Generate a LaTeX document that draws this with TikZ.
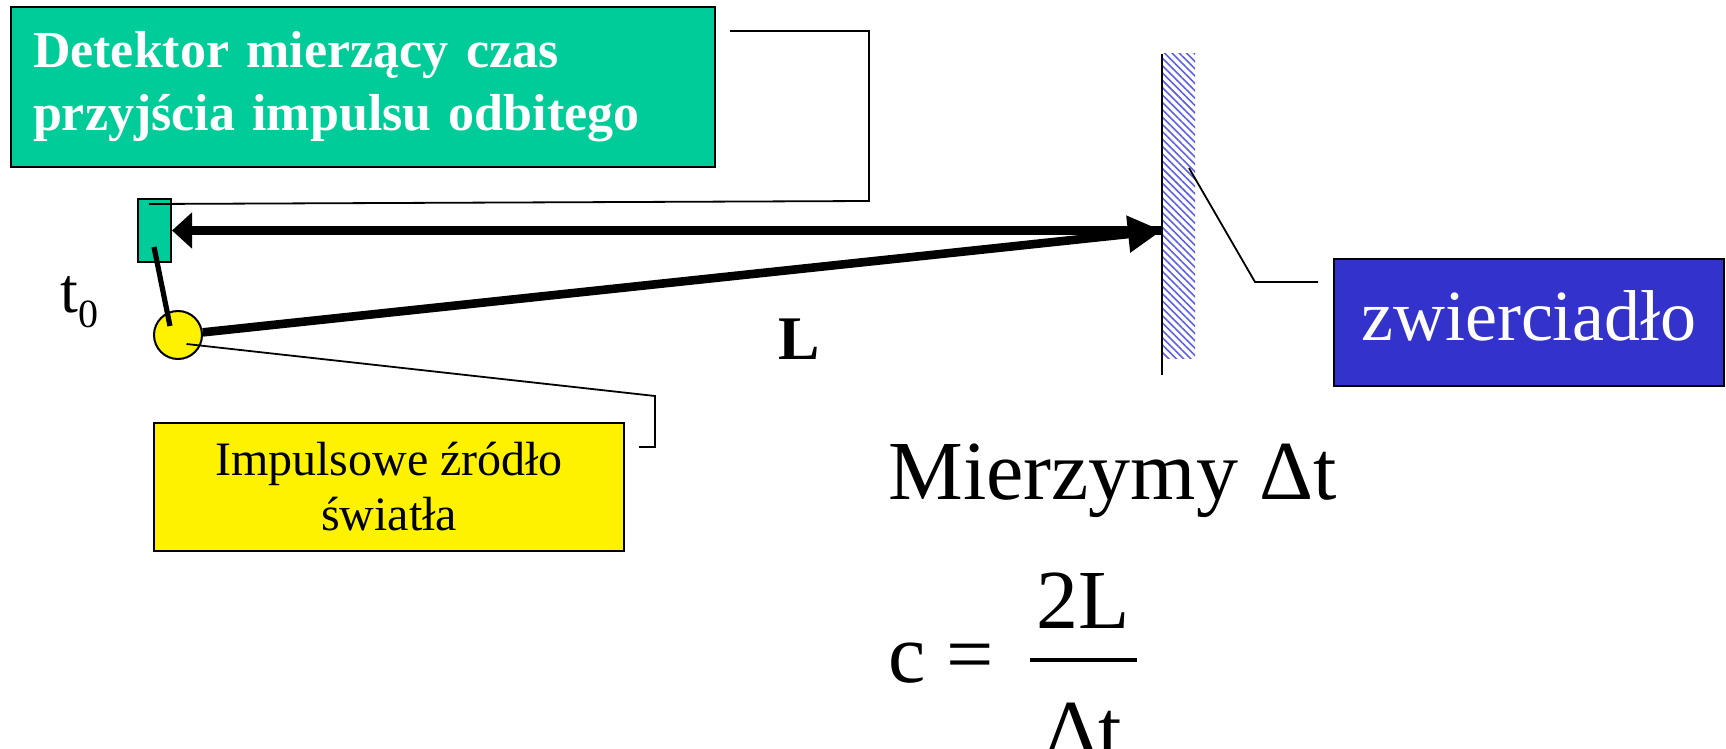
\documentclass[tikz,border=0pt]{standalone}
\usepackage{fontspec}
\setmainfont{Liberation Serif}
\usetikzlibrary{arrows.meta,patterns.meta}
\definecolor{tealbox}{RGB}{0,204,153}
\definecolor{bluebox}{RGB}{51,51,204}
\definecolor{hatchblue}{RGB}{95,95,230}
\begin{document}
\begin{tikzpicture}[x=0.5pt,y=-0.5pt,
  box/.style={draw=black,line width=1pt,inner sep=0pt},
  leader/.style={draw=black,line width=0.9pt},
  beam/.style={line width=4.3pt},
  plain/.style={inner sep=0pt},
]
\useasboundingbox (0,0) rectangle (1726,749);

% boxes
\node[box,fill=tealbox,minimum width=352pt,minimum height=80pt,text width=330pt,align=left,text=white,
      font=\fontsize{26}{31.5}\bfseries\selectfont] (detbox) at (363,87)
      {Detektor mierzący czas\\przyjścia impulsu odbitego};
\node[box,fill=yellow,minimum width=235pt,minimum height=64pt,align=center,
      font=\fontsize{24}{27.5}\selectfont] (srcbox) at (389,487)
      {Impulsowe źródło\\światła};
\node[box,fill=bluebox,minimum width=195pt,minimum height=63.5pt,text=white,
      font=\fontsize{36}{36}\selectfont,text height=24pt,text depth=6.5pt] (zw) at (1529,322.5)
      {zwierciadło};

% mirror
\node[plain,minimum width=16pt,minimum height=152pt,pattern={Lines[angle=-45,distance=2.6pt,line width=0.8pt]},
      pattern color=hatchblue] (mirror) at (1179,206) {};
\coordinate (mtop) at (1162,54);
\coordinate (mbot) at (1162,375);
\draw[line width=1pt] (mtop) -- (mbot);

% detector and source
\node[box,fill=tealbox,minimum width=16.5pt,minimum height=31.5pt] (det) at (154.5,230.5) {};
\node[circle,draw=black,line width=1pt,fill=yellow,minimum size=24pt,inner sep=0pt] (src) at (178,335) {};

% beams
\coordinate (hit) at (1162,230.5);
\draw[beam,{Triangle[length=10pt,width=17.5pt]}-] (det.east) -- (hit);
\draw[beam,-{Triangle[length=17pt,width=17.5pt]}] (src) -- (hit);
\draw[line width=2.6pt] ([shift={(-8,-9)}]src.center) -- ([shift={(-0.5,16.5)}]det.center);

% leaders
\coordinate (dl1) at (869,201);
\coordinate (dl2) at (869,31);
\coordinate (dl3) at (730,31);
\draw[leader] ([shift={(-5.5,-26.5)}]det.center) -- (dl1) -- (dl2) -- (dl3);
\coordinate (sl1) at (655,396);
\coordinate (sl2) at (655,447);
\coordinate (sl3) at (639,447);
\draw[leader] ([shift={(8.5,9)}]src.center) -- (sl1) -- (sl2) -- (sl3);
\coordinate (ml1) at (1255,282);
\coordinate (ml2) at (1318,282);
\draw[leader] ([shift={(10,-38)}]mirror.center) -- (ml1) -- (ml2);

% labels
\node[plain,anchor=base west,font=\fontsize{32}{32}\selectfont] (t0) at (60,312)
  {t\raisebox{-7.5pt}{\fontsize{20}{20}\selectfont 0}};
\node[plain,anchor=base,font=\fontsize{31}{31}\bfseries\selectfont] (L) at (799,359) {L};
\node[plain,anchor=base west,font=\fontsize{42}{42}\selectfont] (mz) at (888,499) {Mierzymy Δt};
\node[plain,anchor=base west,font=\fontsize{42}{42}\selectfont] (ceq) at (888,682) {c =};
\node[plain,anchor=base,font=\fontsize{42}{42}\selectfont] (num) at (1083,628) {2L};
\node[plain,anchor=base,font=\fontsize{42}{42}\selectfont] (den) at (1083.5,758) {Δt};
\coordinate (barL) at (1030,660);
\coordinate (barR) at (1137,660);
\draw[line width=2pt] (barL) -- (barR);
\end{tikzpicture}
\end{document}
